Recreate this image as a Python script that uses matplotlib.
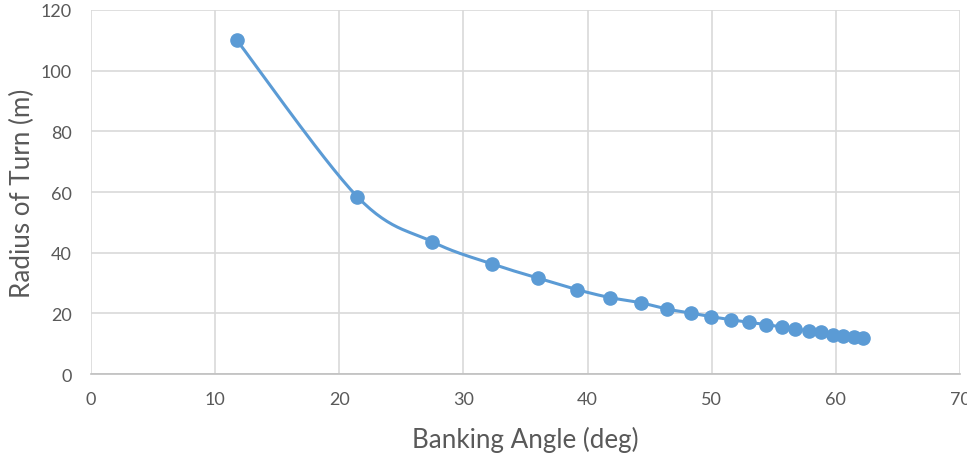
import numpy as np
import matplotlib
matplotlib.use("Agg")
import matplotlib.pyplot as plt

# banking angle (deg) vs radius of turn (m)
angle = [11.74, 21.46, 27.49, 32.29, 36.04, 39.17, 41.80, 44.27, 46.41, 48.29,
         49.94, 51.58, 53.03, 54.40, 55.65, 56.73, 57.85, 58.82, 59.75, 60.55,
         61.47, 62.22]
radius = [110.1, 58.4, 43.6, 36.3, 31.6, 27.8, 25.2, 23.5, 21.4, 20.1,
          18.9, 17.9, 17.0, 16.3, 15.5, 14.8, 14.2, 13.7, 12.9, 12.6,
          12.2, 11.9]

x_ticks = [0, 10, 20, 30, 40, 50, 60, 70]
y_ticks = [0, 20, 40, 60, 80, 100, 120]

BLUE = "#5B9BD5"
GRID = "#D9D9D9"
TEXT = "#595959"


def smooth(xs, ys, sx, sy, n=30):
    # Catmull-Rom through the points, done in pixel-ish space like Excel's smoothed line
    p = np.column_stack([np.asarray(xs) * sx, np.asarray(ys) * sy])
    p = np.vstack([p[0], p, p[-1]])
    out = []
    t = np.linspace(0, 1, n)[:, None]
    for i in range(1, len(p) - 2):
        p0, p1, p2, p3 = p[i - 1], p[i], p[i + 1], p[i + 2]
        seg = 0.5 * ((2 * p1) + (-p0 + p2) * t + (2 * p0 - 5 * p1 + 4 * p2 - p3) * t ** 2
                     + (-p0 + 3 * p1 - 3 * p2 + p3) * t ** 3)
        out.append(seg)
    c = np.vstack(out)
    return c[:, 0] / sx, c[:, 1] / sy


plt.rcParams["font.family"] = ["Lato", "DejaVu Sans"]

fig = plt.figure(figsize=(9.67, 4.56), dpi=100)
ax = fig.add_axes([0.0941, 0.1776, 0.8987, 0.7983])

sx_, sy_ = smooth(angle, radius, 12.41, 3.033)
ax.plot(sx_, sy_, color=BLUE, lw=2.2, zorder=3, solid_capstyle="round")
ax.plot(angle, radius, "o", color=BLUE, ms=9.5, zorder=4)

ax.set_xlim(0, 70)
ax.set_ylim(0, 120)
ax.set_xticks(x_ticks)
ax.set_yticks(y_ticks)
ax.grid(True, color=GRID, lw=1.2)
ax.set_axisbelow(True)
for s in ["top", "right", "left"]:
    ax.spines[s].set_visible(False)
ax.spines["bottom"].set_color("#BFBFBF")
ax.spines["bottom"].set_linewidth(1.2)
ax.tick_params(length=0, labelsize=13, labelcolor=TEXT, pad=12)
ax.tick_params(axis="y", pad=14)

ax.set_xlabel("Banking Angle (deg)", fontsize=18.7, color=TEXT, labelpad=14)
ax.set_ylabel("Radius of Turn (m)", fontsize=18.7, color=TEXT, labelpad=4)

fig.savefig("out.png", dpi=100, facecolor="white")
